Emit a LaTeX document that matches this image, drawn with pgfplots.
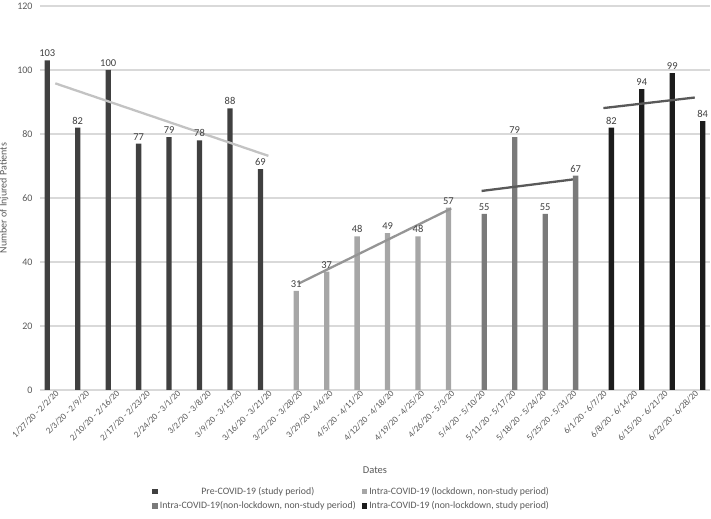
\documentclass[border=0pt]{standalone}
\usepackage{pgfplots}
\pgfplotsset{compat=1.18}
\usepackage{fontspec}
\setmainfont{Carlito}
\definecolor{preC}{HTML}{404040}
\definecolor{lockC}{HTML}{A6A6A6}
\definecolor{nonlC}{HTML}{7A7A7A}
\definecolor{studC}{HTML}{1C1C1C}
\definecolor{gridC}{HTML}{D9D9D9}
\definecolor{txtC}{HTML}{595959}

\begin{document}
\begin{tikzpicture}
\useasboundingbox (0,0) rectangle (711bp,519bp);
\begin{axis}[
  at={(40bp,129bp)}, anchor=south west,
  scale only axis,
  width=670bp, height=384bp,
  xmin=-0.5, xmax=21.5,
  ymin=0, ymax=120,
  ytick={0,20,...,120},
  xtick={0,...,21},
  xticklabels={1/27/20 - 2/2/20, 2/3/20 - 2/9/20, 2/10/20 - 2/16/20, 2/17/20 - 2/23/20,
    2/24/20 - 3/1/20, 3/2/20 - 3/8/20, 3/9/20 - 3/15/20, 3/16/20 - 3/21/20,
    3/22/20 - 3/28/20, 3/29/20 - 4/4/20, 4/5/20 - 4/11/20, 4/12/20 - 4/18/20,
    4/19/20 - 4/25/20, 4/26/20 - 5/3/20, 5/4/20 - 5/10/20, 5/11/20 - 5/17/20,
    5/18/20 - 5/24/20, 5/25/20 - 5/31/20, 6/1/20 - 6/7/20, 6/8/20 - 6/14/20,
    6/15/20 - 6/21/20, 6/22/20 - 6/28/20},
  x tick label style={rotate=45, anchor=east, font=\fontsize{9bp}{10bp}\selectfont, text=txtC, yshift=-3bp, xshift=1bp, inner sep=1bp},
  y tick label style={font=\fontsize{10bp}{11bp}\selectfont, text=txtC, xshift=-4bp},
  /pgf/number format/assume math mode=true,
  major tick length=0pt,
  axis line style={draw=none},
  ymajorgrids, grid style={gridC, line width=1.2bp},
  xlabel={Dates}, ylabel={Number of Injured Patients},
  xlabel style={font=\fontsize{10.5bp}{12bp}\selectfont, text=txtC, at={(0.5,-0.19)}, anchor=north},
  ylabel style={font=\fontsize{10bp}{12bp}\selectfont, text=txtC, at={(-0.042,0.5)}, anchor=south},
  ybar, bar width=5.3bp,
  legend columns=2,
  legend style={draw=none, fill=none, at={(0.163,-0.242)}, anchor=north west,
    font=\fontsize{9.8bp}{11bp}\selectfont, text=txtC,
    /tikz/every even column/.append style={column sep=4bp},
    row sep=2bp},
  legend image code/.code={\fill[#1] (0bp,-2.8bp) rectangle (5.5bp,2.8bp);},
  every node near coord/.append style={font=\fontsize{10.5bp}{12bp}\selectfont, text=preC},
]
\addplot[fill=preC, draw=none, bar shift=-7.95bp, nodes near coords] coordinates {
  (0,103)(1,82)(2,100)(3,77)(4,79)(5,78)(6,88)(7,69)};
\addlegendentry{Pre-COVID-19 (study period)}
\addplot[fill=lockC, draw=none, bar shift=-2.65bp, nodes near coords] coordinates {
  (8,31)(9,37)(10,48)(11,49)(12,48)(13,57)};
\addlegendentry{Intra-COVID-19 (lockdown, non-study period)}
\addplot[fill=nonlC, draw=none, bar shift=2.65bp, nodes near coords] coordinates {
  (14,55)(15,79)(16,55)(17,67)};
\addlegendentry{Intra-COVID-19(non-lockdown, non-study period)}
\addplot[fill=studC, draw=none, bar shift=7.95bp, nodes near coords] coordinates {
  (18,82)(19,94)(20,99)(21,84)};
\addlegendentry{Intra-COVID-19 (non-lockdown, study period)}
% linear trend lines (end points)
\addplot[sharp plot, no marks, draw=gridC!90!black, line width=2.3bp, forget plot] coordinates {(0,95.83)(7,73.17)};
\addplot[sharp plot, no marks, draw=lockC!90!black, line width=2.3bp, forget plot] coordinates {(8,33.29)(13,56.71)};
\addplot[sharp plot, no marks, draw=txtC, line width=2.3bp, forget plot] coordinates {(14,62.2)(17,65.8)};
\addplot[sharp plot, no marks, draw=txtC, line width=2.3bp, forget plot] coordinates {(18,88.1)(21,91.4)};
\end{axis}
\end{tikzpicture}
\end{document}
